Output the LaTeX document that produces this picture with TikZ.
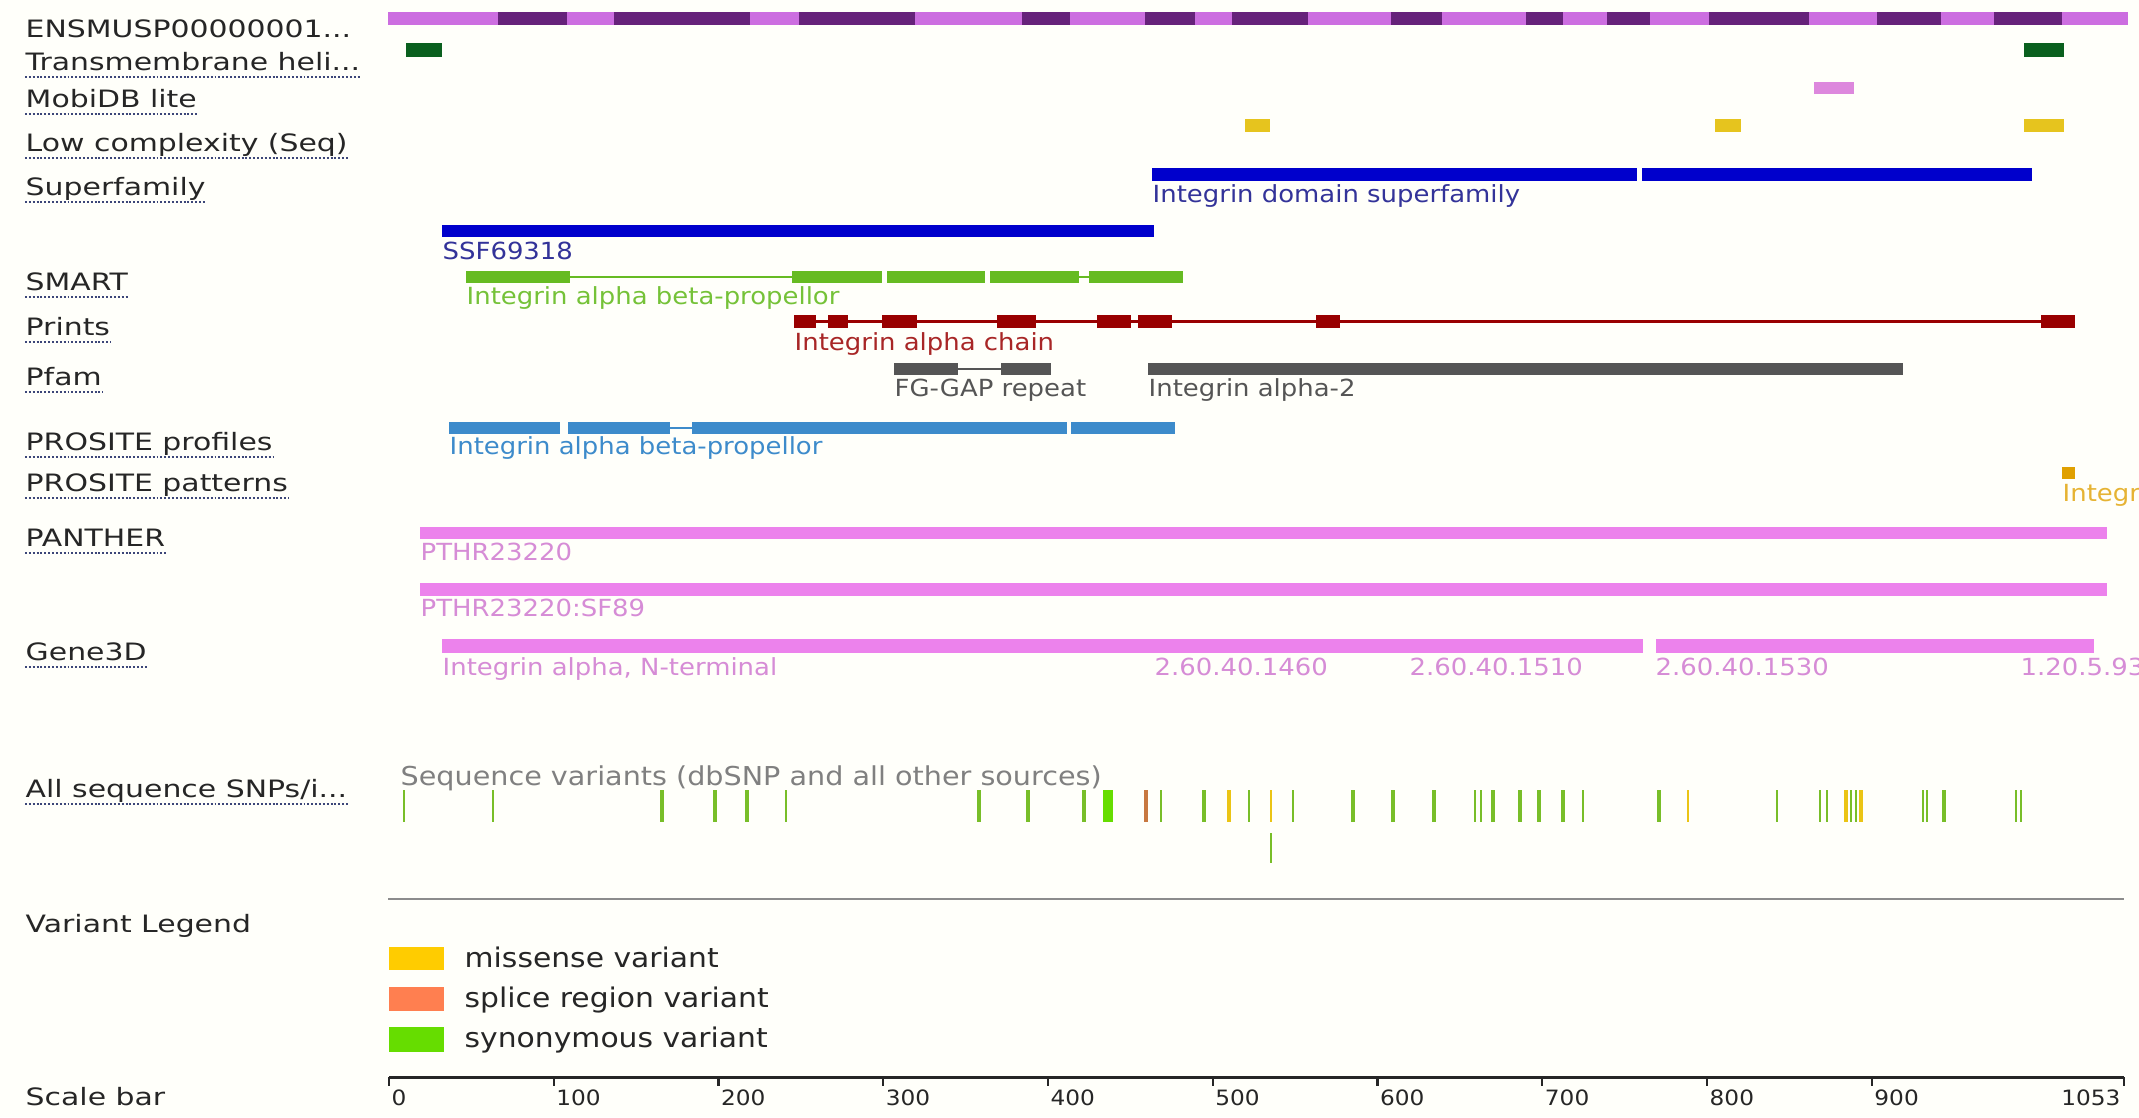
\documentclass[tikz,border=0pt]{standalone}
\usepackage{fontspec}
\setmainfont{DejaVu Sans}[FakeStretch=1.1]
\newfontfamily\lblfont{DejaVu Sans}[FakeStretch=1.25]
\definecolor{bg}{RGB}{255,255,250}
\definecolor{ensl}{RGB}{204,110,224}
\definecolor{ensd}{RGB}{102,34,122}
\definecolor{tmgreen}{RGB}{10,96,30}
\definecolor{mobi}{RGB}{221,136,221}
\definecolor{lowc}{RGB}{230,196,30}
\definecolor{sfblue}{RGB}{0,0,204}
\definecolor{sftext}{RGB}{51,51,153}
\definecolor{smart}{RGB}{102,187,34}
\definecolor{prints}{RGB}{153,0,0}
\definecolor{pfam}{RGB}{85,85,85}
\definecolor{prof}{RGB}{61,139,203}
\definecolor{patt}{RGB}{224,160,0}
\definecolor{panther}{RGB}{236,130,236}
\definecolor{panthertext}{RGB}{214,140,214}
\definecolor{snpgray}{RGB}{128,128,128}
\definecolor{syn}{RGB}{120,190,40}
\definecolor{synb}{RGB}{102,221,0}
\definecolor{mis}{RGB}{235,196,20}
\definecolor{spl}{RGB}{200,120,64}
\definecolor{legmis}{RGB}{255,204,0}
\definecolor{legspl}{RGB}{255,127,80}
\definecolor{legsyn}{RGB}{102,221,0}
\definecolor{ulcol}{RGB}{60,70,120}
\tikzset{
  lbl/.style={anchor=base west, inner sep=0pt, text={black!85}, font=\lblfont\fontsize{6.8}{8}\selectfont},
  trk/.style={anchor=base west, inner sep=0pt, font=\fontsize{6.7}{8}\selectfont},
  leg/.style={anchor=base west, inner sep=0pt, text={black!85}, font=\fontsize{7.7}{9}\selectfont},
  num/.style={anchor=base west, inner sep=0pt, text={black!85}, font=\fontsize{6}{7}\selectfont},
  ul/.style={ulcol, line width=0.55pt, dash pattern=on 0.55pt off 0.55pt},
  link/.style={line width=0.6pt}
}
\begin{document}
\begin{tikzpicture}[x=0.01cm,y=-0.01cm]
\path[use as bounding box, fill=bg] (0,0) rectangle (2139,1117);

% track names
\node[lbl] (lens) at (25,37) {ENSMUSP00000001...};
\foreach \n/\y/\t in {tm/70/{Transmembrane heli...}, mobi/107/{MobiDB lite}, lowc/151/{Low complexity (Seq)},
    sf/195/{Superfamily}, smart/290/{SMART}, prints/335/{Prints}, pfam/385/{Pfam}, prof/450/{PROSITE profiles},
    patt/491/{PROSITE patterns}, panther/546/{PANTHER}, gene/660/{Gene3D}, snp/797/{All sequence SNPs/i...}} {
  \node[lbl] (l\n) at (25,\y) {\t};
  \draw[ul] ([yshift=-2pt]l\n.base west) -- ([yshift=-2pt]l\n.base east);
}
\node[lbl] (lleg) at (25,932) {Variant Legend};
\node[lbl] (lscale) at (25,1105) {Scale bar};

% protein
\fill[ensl] (388,12) rectangle (2128,25);
\foreach \a/\b in {498/567,614/750,799/915,1022/1070,1145/1195,1232/1308,1391/1442,1526/1563,1607/1650,1709/1809,1877/1941,1994/2062}
  \fill[ensd] (\a,12) rectangle (\b,25);

\foreach \a/\b in {406/442,2024/2064} \fill[tmgreen] (\a,43) rectangle (\b,57);
\fill[mobi] (1814,82) rectangle (1854,94);
\foreach \a/\b in {1245/1270,1715/1741,2024/2064} \fill[lowc] (\a,119) rectangle (\b,132);

% superfamily
\fill[sfblue] (1152,168) rectangle (1637,181);
\fill[sfblue] (1642,168) rectangle (2032,181);
\node[trk, sftext] (tsf) at (1152,202) {Integrin domain superfamily};
\fill[sfblue] (442,225) rectangle (1154,237);
\node[trk, sftext] (tssf) at (442,259) {SSF69318};

% smart
\draw[smart, link] (570,277) -- (792,277);
\draw[smart, link] (1079,277) -- (1089,277);
\foreach \a/\b in {466/570,792/882,887/985,990/1079,1089/1183} \fill[smart] (\a,271) rectangle (\b,283);
\node[trk, smart!90!white] (tsmart) at (466,304) {Integrin alpha beta-propellor};

% prints
\draw[prints, link] (794,321.5) -- (2075,321.5);
\foreach \a/\b in {794/816,828/848,882/917,997/1036,1097/1131,1138/1172,1316/1340,2041/2075} \fill[prints] (\a,315) rectangle (\b,328);
\node[trk, prints!85!white] (tprints) at (794,350) {Integrin alpha chain};

% pfam
\draw[pfam, link] (958,369) -- (1001,369);
\foreach \a/\b in {894/958,1001/1051,1148/1903} \fill[pfam] (\a,363) rectangle (\b,375);
\node[trk, pfam] (tfg) at (894,396) {FG-GAP repeat};
\node[trk, pfam] (tia) at (1148,396) {Integrin alpha-2};

% prosite
\draw[prof, link] (670,428) -- (692,428);
\foreach \a/\b in {449/560,568/670,692/1067,1071/1175} \fill[prof] (\a,422) rectangle (\b,434);
\node[trk, prof] (tprof) at (449,454) {Integrin alpha beta-propellor};
\fill[patt] (2062,467) rectangle (2075,479);
\node[trk, patt!80!white] (tpatt) at (2062,501) {Integr};

% panther
\fill[panther] (420,527) rectangle (2107,539);
\node[trk, panthertext] (tpth) at (420,560) {PTHR23220};
\fill[panther] (420,583) rectangle (2107,596);
\node[trk, panthertext] (tsf89) at (420,616) {PTHR23220:SF89};

% gene3d
\fill[panther] (442,639) rectangle (1643,653);
\fill[panther] (1656,639) rectangle (2094,653);
\foreach \n/\x/\t in {nt/442/{Integrin alpha, N-terminal}, a/1154/{2.60.40.1460}, b/1409/{2.60.40.1510},
    c/1655/{2.60.40.1530}, d/2020/{1.20.5.93}}
  \node[trk, panthertext] (g\n) at (\x,675) {\t};

% variants
\node[trk, snpgray, font=\fontsize{7.4}{9}\selectfont] (tsnp) at (400,785) {Sequence variants (dbSNP and all other sources)};
\foreach \x/\w/\c in {404/0.6/syn,493/0.6/syn,662/1.1/syn,715/1.1/syn,747/1.1/syn,786/0.6/syn,
    979/1.1/syn,1028/1.1/syn,1084/1.1/syn,1108/2.8/synb,1146/1.1/spl,1161/0.6/syn,1204/1.1/syn,
    1229/1.1/mis,1249/0.6/syn,1271/0.6/mis,1293/0.6/syn,1353/1.1/syn,1393/1.1/syn,1434/1.1/syn,
    1475/0.6/syn,1481/0.6/syn,1493/1.1/syn,1520/1.1/syn,1539/1.1/syn,1563/1.1/syn,1583/0.6/syn,
    1659/1.1/syn,1688/0.6/mis,1777/0.6/syn,1820/0.8/syn,1827/0.8/syn,1846/1.1/mis,1851/0.6/syn,
    1856/0.6/syn,1861/1.1/mis,1923/0.6/syn,1927/0.6/syn,1944/1.1/syn,2016/0.6/syn,2021/0.6/syn}
  \draw[\c, line width=\w pt] (\x,790) -- (\x,822);
\draw[syn, line width=0.6pt] (1271,833) -- (1271,863);
\draw[black!45, line width=0.6pt] (388,899) -- (2124,899);

% legend
\fill[legmis] (389,947) rectangle (444,970);
\node[leg] (lmis) at (464,967) {missense variant};
\fill[legspl] (389,987) rectangle (444,1011);
\node[leg] (lspl) at (464,1007) {splice region variant};
\fill[legsyn] (389,1027) rectangle (444,1052);
\node[leg] (lsyn) at (464,1047) {synonymous variant};

% scale
\draw[black!85, line width=0.85pt] (389,1077) -- (2124,1077);
\foreach \v in {0,100,...,900} {
  \draw[black!85, line width=0.6pt] ({389+1.6475*\v},1077) -- ({389+1.6475*\v},1086);
  \node[num] (s\v) at ({391+1.6475*\v},1105) {\v};
}
\draw[black!85, line width=0.6pt] (2124,1077) -- (2124,1086);
\node[num, anchor=base east] (s1053) at (2121,1105) {1053};
\end{tikzpicture}
\end{document}
